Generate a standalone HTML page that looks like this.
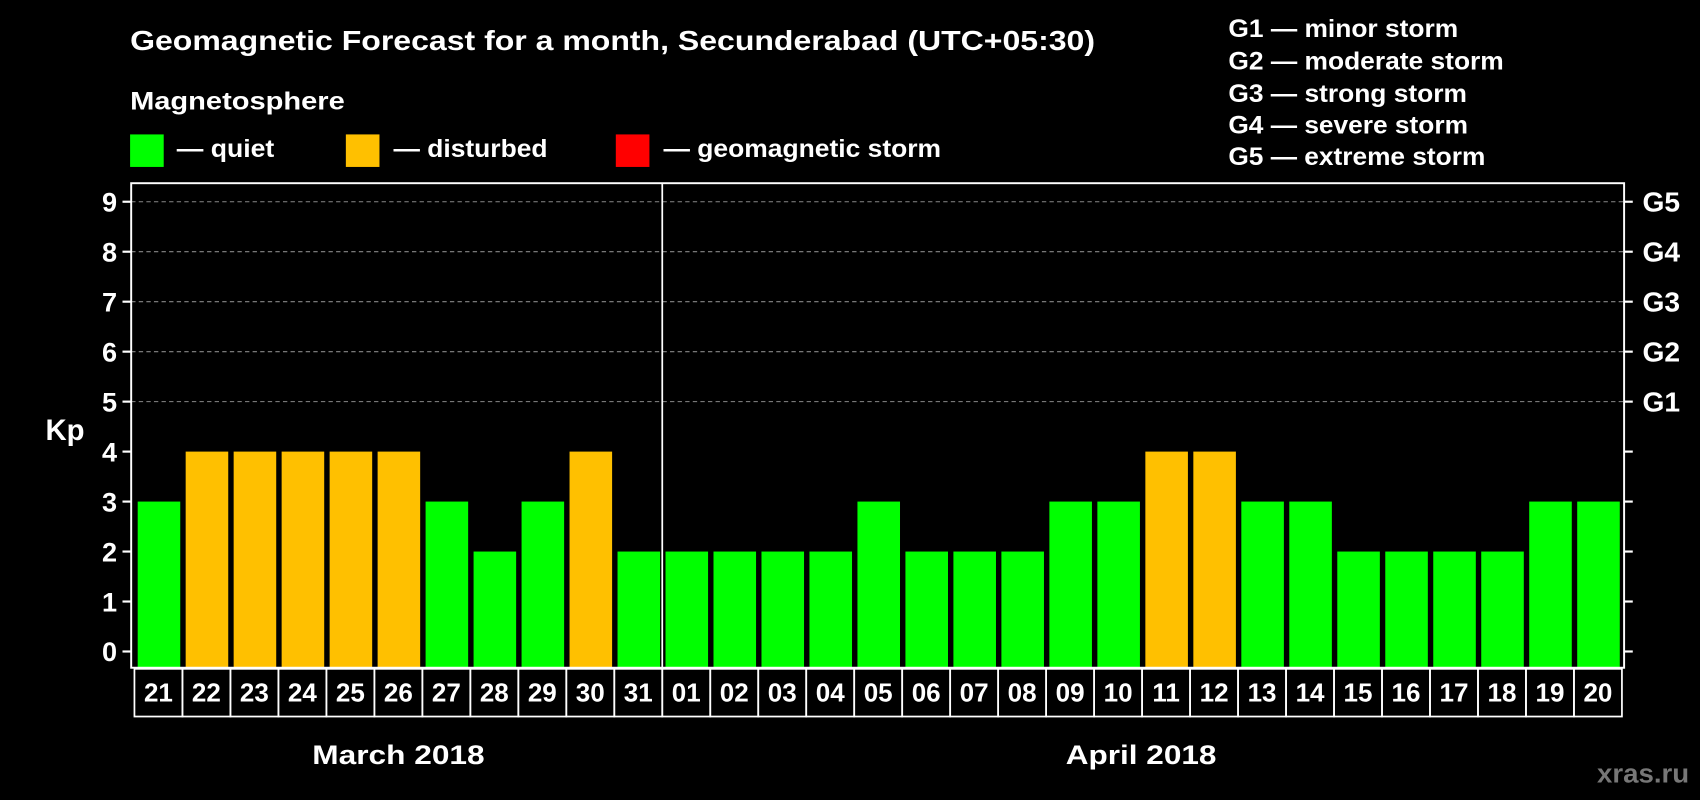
<!DOCTYPE html>
<html><head><meta charset="utf-8"><style>
body{margin:0;background:#000;width:1700px;height:800px;overflow:hidden}
svg{display:block;font-family:"Liberation Sans",Arial,sans-serif;font-weight:bold}
</style></head><body>
<svg id="c" width="1700" height="800" xmlns="http://www.w3.org/2000/svg">
<g transform="scale(1.08418,1.08401)">
<text x="120" y="46" fill="#fff" font-size="26" textLength="890" lengthAdjust="spacingAndGlyphs">Geomagnetic Forecast for a month, Secunderabad (UTC+05:30)</text>
<text x="120" y="101" fill="#fff" font-size="23" textLength="198" lengthAdjust="spacingAndGlyphs">Magnetosphere</text>
<rect x="120" y="124" width="31" height="30" fill="#00ff00"/>
<text x="163" y="145" fill="#fff" font-size="23" textLength="90" lengthAdjust="spacingAndGlyphs">— quiet</text>
<rect x="319" y="124" width="31" height="30" fill="#ffc000"/>
<text x="363" y="145" fill="#fff" font-size="23" textLength="142" lengthAdjust="spacingAndGlyphs">— disturbed</text>
<rect x="568" y="124" width="31" height="30" fill="#ff0000"/>
<text x="612" y="145" fill="#fff" font-size="23" textLength="256" lengthAdjust="spacingAndGlyphs">— geomagnetic storm</text>
<g font-size="23" fill="#fff">
<text x="1133" y="34" textLength="212" lengthAdjust="spacingAndGlyphs">G1 — minor storm</text>
<text x="1133" y="64" textLength="254" lengthAdjust="spacingAndGlyphs">G2 — moderate storm</text>
<text x="1133" y="94" textLength="220" lengthAdjust="spacingAndGlyphs">G3 — strong storm</text>
<text x="1133" y="123" textLength="221" lengthAdjust="spacingAndGlyphs">G4 — severe storm</text>
<text x="1133" y="152" textLength="237" lengthAdjust="spacingAndGlyphs">G5 — extreme storm</text>
</g>
<text x="78" y="406" fill="#fff" font-size="27" text-anchor="end">Kp</text>
<g id="grid"></g><g id="bars"></g><g id="axes"></g><g id="days"></g>
<text x="288" y="705" fill="#fff" font-size="25" textLength="159" lengthAdjust="spacingAndGlyphs">March 2018</text>
<text x="983" y="705" fill="#fff" font-size="25" textLength="139" lengthAdjust="spacingAndGlyphs">April 2018</text>
<text x="1473" y="722" fill="#777" font-size="24" textLength="85" lengthAdjust="spacingAndGlyphs">xras.ru</text>
</g>
</svg>
<script>
const days=["21","22","23","24","25","26","27","28","29","30","31","01","02","03","04","05","06","07","08","09","10","11","12","13","14","15","16","17","18","19","20"];
const kp=[3,4,4,4,4,4,3,2,3,4,2,2,2,2,2,3,2,2,2,3,3,4,4,3,3,2,2,2,2,3,3];
const yTicks=[0,1,2,3,4,5,6,7,8,9];
const gLabels=["G1","G2","G3","G4","G5"];
const NS="http://www.w3.org/2000/svg";
const L=121,R=1498,T=169,B=616;
const y=v=>601-v*46.1;
const step=(1494-127+5)/days.length;
const x=i=>127+i*step;
function mk(t,a,p){const e=document.createElementNS(NS,t);for(const k in a)e.setAttribute(k,a[k]);p.appendChild(e);return e;}
const grid=document.getElementById('grid'),bars=document.getElementById('bars'),axes=document.getElementById('axes'),dg=document.getElementById('days');
yTicks.forEach(v=>{
 if(v>=5){const g=mk('line',{x1:L,x2:R,y1:y(v),y2:y(v),stroke:'#888','stroke-dasharray':'4,3','stroke-width':1},grid);
 
 }
 const t=mk('line',{x1:L-8,x2:L,y1:y(v),y2:y(v),stroke:'#fff','stroke-width':2},axes);
 
 
 const t2=mk('line',{x1:R,x2:R+8,y1:y(v),y2:y(v),stroke:'#fff','stroke-width':2},axes);
 
 
 const l=mk('text',{x:108,y:y(v)+9,fill:'#fff','font-size':25,'text-anchor':'end'},axes);l.textContent=v;
 
 
});
gLabels.forEach((g,i)=>{const l=mk('text',{x:1515,y:y(5+i)+9,fill:'#fff','font-size':26},axes);l.textContent=g;
 
 });
kp.forEach((v,i)=>{
 const b=mk('rect',{x:x(i),y:y(v),width:step-5,height:B-y(v),fill:v>=5?'#ff0000':v>=4?'#ffc000':'#00ff00'},bars);
 
 
 const c=mk('rect',{x:x(i)-3,y:B+1,width:step,height:44,fill:'none',stroke:'#fff','stroke-width':1.6},dg);
 
 
 const t=mk('text',{x:x(i)-3+step/2,y:B+31,fill:'#fff','font-size':24,'text-anchor':'middle'},dg);t.textContent=days[i];
 
 
});
const fr=mk('rect',{x:L,y:T,width:R-L,height:B-T,fill:'none',stroke:'#fff','stroke-width':1.8},axes);


const div=days.indexOf("01");
const dl=mk('line',{x1:x(div)-3,x2:x(div)-3,y1:T,y2:B,stroke:'#fff','stroke-width':1.6},axes);


</script>
</body></html>
